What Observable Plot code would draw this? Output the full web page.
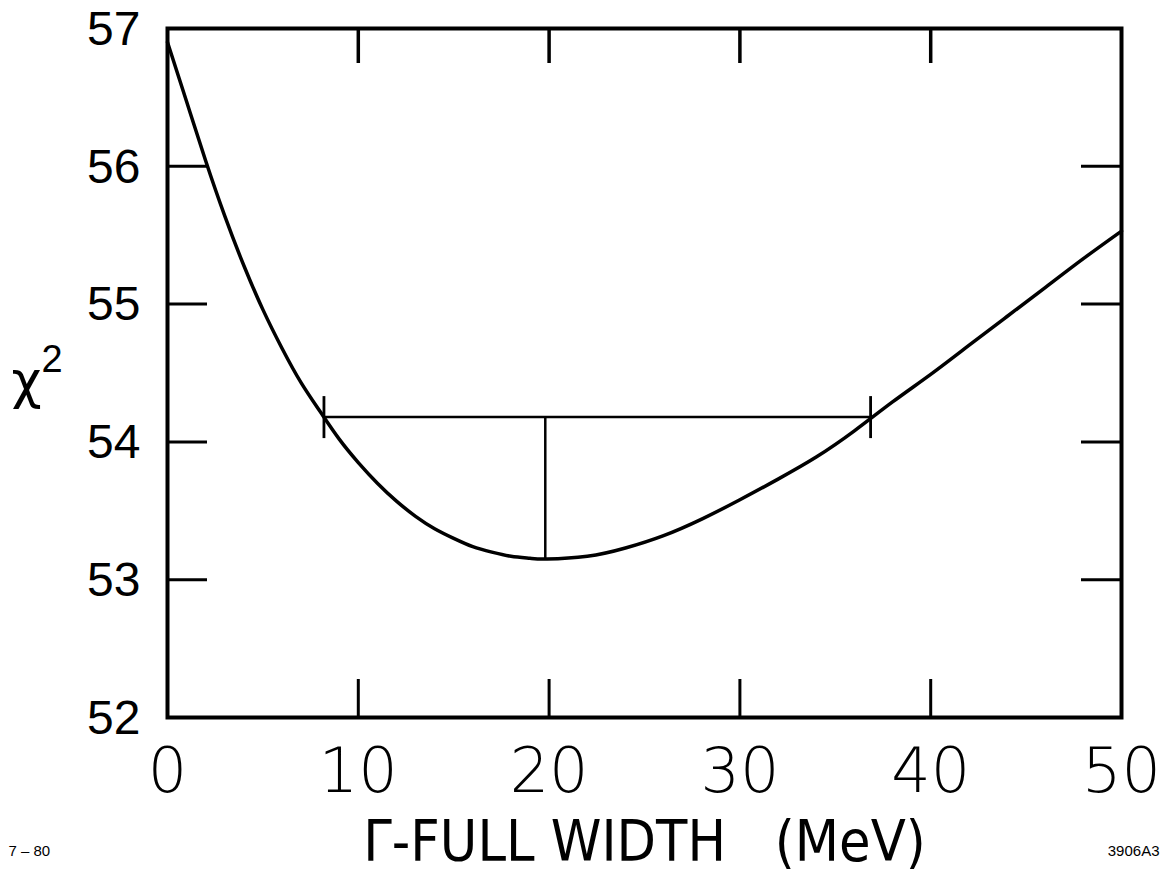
<!DOCTYPE html>
<html>
<head>
<meta charset="utf-8">
<script src="https://cdn.jsdelivr.net/npm/d3@7"></script>
<script src="https://cdn.jsdelivr.net/npm/@observablehq/plot@0.6"></script>
<style>
  html, body { margin: 0; padding: 0; background: #fff; }
  svg { display: block; }
</style>
</head>
<body>
<div id="chart"></div>
<script>
// Γ full width (MeV) and χ²
const gammaWidth = [0, 1, 2, 3, 4, 5, 6, 7, 8, 9, 10, 11, 12, 13, 14, 15, 16, 17, 18, 19, 19.9, 22, 24, 26, 28, 30, 32, 34, 36, 38, 40, 42, 44, 46, 48, 50];
const chiSquare  = [56.9, 56.47, 56.04, 55.64, 55.28, 54.96, 54.68, 54.43, 54.22, 54.02, 53.85, 53.70, 53.57, 53.46, 53.37, 53.30, 53.24, 53.20, 53.17, 53.155, 53.15, 53.17, 53.23, 53.32, 53.44, 53.58, 53.73, 53.89, 54.08, 54.29, 54.49, 54.70, 54.91, 55.12, 55.33, 55.53];

// Best fit and χ²_min + 1 interval
const fitBest = [19.8];
const fitLow = [8.2];
const fitHigh = [36.85];
const chiMin = [53.15];
const chiLevel = [54.18];

const xTicks = [0, 10, 20, 30, 40, 50];
const yTicks = [52, 53, 54, 55, 56, 57];
const xInner = [10, 20, 30, 40];
const yInner = [53, 54, 55, 56];

const xLabel = "Γ-FULL WIDTH\u00a0\u00a0\u00a0(MeV)";
const yLabel = "χ";
const yLabelSup = "2";
const leftNote = "7 – 80";
const rightNote = "3906A3";

const curve = gammaWidth.map((g, i) => ({g, c: chiSquare[i]}));
const interval = fitLow.map((lo, i) => ({lo, hi: fitHigh[i], best: fitBest[i], min: chiMin[i], level: chiLevel[i]}));
const ends = interval.flatMap(d => [{x: d.lo, y: d.level}, {x: d.hi, y: d.level}]);

// vertical bar symbol for interval end caps
const vbar = {draw(ctx, size) { const r = Math.sqrt(size / Math.PI); ctx.moveTo(0, -r); ctx.lineTo(0, r); }};

const W = 1164, H = 873;
const mL = 167, mR = 43, mT = 28, mB = 156;
const fw = W - mL - mR, fh = H - mT - mB;

const chart = Plot.plot({
  width: W,
  height: H,
  marginLeft: mL,
  marginRight: mR,
  marginTop: mT,
  marginBottom: mB,
  style: {fontFamily: "'Liberation Sans', Arial, sans-serif", color: "#000", background: "#fff"},
  x: {domain: [0, 50], ticks: xTicks},
  y: {domain: [52, 57], ticks: yTicks},
  marks: [
    Plot.axisX({ticks: xTicks, tickSize: 0, tickPadding: 30, fontSize: 62, fontWeight: 300, fontFamily: "'DejaVu Sans', sans-serif", label: null}),
    Plot.axisY({ticks: yTicks, tickSize: 0, tickPadding: 27, fontSize: 48, dy: 1, tickFormat: d => String(d), label: null}),
    // inward ticks
    Plot.tickX(xInner, {x: d => d, insetBottom: fh - 35, stroke: "#000", strokeWidth: 3.5}),
    Plot.tickX(xInner, {x: d => d, insetTop: fh - 38, stroke: "#000", strokeWidth: 3}),
    Plot.tickY(yInner, {y: d => d, insetRight: fw - 40, stroke: "#000", strokeWidth: 3}),
    Plot.tickY(yInner, {y: d => d, insetLeft: fw - 40, stroke: "#000", strokeWidth: 3}),
    // curve
    Plot.line(curve, {x: "g", y: "c", curve: "natural", stroke: "#000", strokeWidth: 3.5}),
    // interval
    Plot.ruleY(interval, {y: "level", x1: "lo", x2: "hi", stroke: "#000", strokeWidth: 2.5}),
    Plot.ruleX(interval, {x: "best", y1: "min", y2: "level", stroke: "#000", strokeWidth: 2.5}),
    Plot.dot(ends, {x: "x", y: "y", r: 21, symbol: vbar, stroke: "#000", fill: "none", strokeWidth: 2.8}),
    Plot.frame({stroke: "#000", strokeWidth: 4}),
    // labels
    Plot.text([yLabel], {frameAnchor: "left", dx: -156, dy: 8, fontSize: 52, text: d => d, textAnchor: "start", fontFamily: "'DejaVu Sans', sans-serif", fill: "#000"}),
    Plot.text([yLabelSup], {frameAnchor: "left", dx: -126, dy: -13, fontSize: 38, text: d => d, textAnchor: "start", fill: "#000"}),
    Plot.text([xLabel], {frameAnchor: "bottom", dy: 143, fontSize: 57, text: d => d, fontWeight: 300, fontFamily: "'DejaVu Sans Condensed', 'DejaVu Sans', sans-serif", fill: "#000"}),
    Plot.text([leftNote], {frameAnchor: "bottom-left", dx: -159, dy: 138, fontSize: 15, text: d => d, textAnchor: "start", fill: "#000"}),
    Plot.text([rightNote], {frameAnchor: "bottom-right", dx: 38, dy: 138, fontSize: 15, text: d => d, textAnchor: "end", fill: "#000"})
  ]
});
document.getElementById("chart").appendChild(chart);
</script>
</body>
</html>
